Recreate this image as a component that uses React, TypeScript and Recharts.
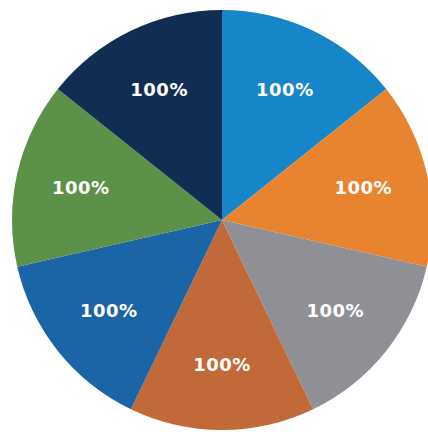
import React from "react"
import { PieChart, Pie, Cell } from "recharts"

const categories = ["A", "B", "C", "D", "E", "F", "G"]
const values = [100, 100, 100, 100, 100, 100, 100]
const labels = ["100%", "100%", "100%", "100%", "100%", "100%", "100%"]
const colors = ["#1686C8", "#E8842F", "#8F9096", "#C2693A", "#1B64A5", "#5C914A", "#112E52"]

const data = categories.map((name, i) => ({ name, value: values[i], label: labels[i] }))

const RADIAN = Math.PI / 180

const renderLabel = (props: any) => {
  const { cx, cy, midAngle, outerRadius, index } = props
  const r = outerRadius * 0.69
  const x = cx + r * Math.cos(-midAngle * RADIAN)
  const y = cy + r * Math.sin(-midAngle * RADIAN)
  return (
    <text
      x={x}
      y={y}
      fill="#ffffff"
      textAnchor="middle"
      dominantBaseline="central"
      fontFamily="'DejaVu Sans', sans-serif"
      fontWeight="bold"
      fontSize={18}
      letterSpacing={0.5}
    >
      {data[index].label}
    </text>
  )
}

export default function App() {
  return (
    <div style={{ position: "absolute", left: 0, top: 0, width: 428, height: 432, background: "#fff" }}>
      <PieChart width={428} height={432} margin={{ top: 0, right: 0, bottom: 0, left: 0 }}>
        <Pie
          data={data}
          dataKey="value"
          nameKey="name"
          cx={222}
          cy={220}
          outerRadius={210}
          startAngle={90}
          endAngle={-270}
          stroke="none"
          label={renderLabel}
          labelLine={false}
          isAnimationActive={false}
        >
          {data.map((d, i) => (
            <Cell key={d.name} fill={colors[i]} />
          ))}
        </Pie>
      </PieChart>
    </div>
  )
}
